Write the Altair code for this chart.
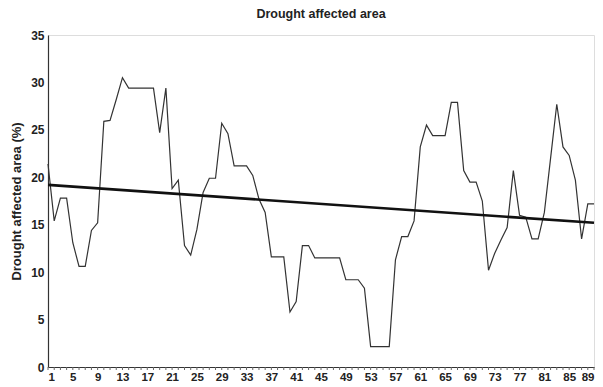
import altair as alt
import pandas as pd

years = list(range(1, 90))
area = [
    21.4, 15.4, 17.8, 17.8, 13.1, 10.6, 10.6, 14.4, 15.2, 25.9,
    26.0, 28.2, 30.5, 29.4, 29.4, 29.4, 29.4, 29.4, 24.7, 29.4,
    18.8, 19.7, 12.8, 11.8, 14.5, 18.4, 19.9, 19.9, 25.7, 24.6,
    21.2, 21.2, 21.2, 20.2, 17.7, 16.3, 11.6, 11.6, 11.6, 5.8,
    6.9, 12.8, 12.8, 11.5, 11.5, 11.5, 11.5, 11.5, 9.2, 9.2,
    9.2, 8.3, 2.15, 2.15, 2.15, 2.15, 11.3, 13.75, 13.75, 15.4,
    23.2, 25.5, 24.4, 24.4, 24.4, 27.9, 27.9, 20.7, 19.5, 19.5,
    17.5, 10.2, 12.0, 13.4, 14.7, 20.7, 16.0, 15.8, 13.5, 13.5,
    16.3, 22.0, 27.7, 23.2, 22.3, 19.7, 13.5, 17.2, 17.2,
]
x_labels = list(range(1, 90, 4))
trend_x = [1, 89]
trend_y = [19.2, 15.2]
y_ticks = [0, 5, 10, 15, 20, 25, 30, 35]

df = pd.DataFrame({"t": years, "v": area})
tr = pd.DataFrame({"t": trend_x, "v": trend_y})
minor = pd.DataFrame({"t": years})

FONT = "Liberation Sans"
H = 332

x_axis = alt.Axis(
    values=x_labels,
    labelOverlap=False,
    labelFont=FONT, labelFontSize=11.5, labelFontWeight="bold",
    labelColor="#222", labelPadding=4,
    ticks=False, domainColor="#333", domainWidth=1.2,
    grid=False, title=None,
)
x_scale = alt.Scale(domain=[1, 89], nice=False, zero=False)
y_enc = alt.Y(
    "v:Q",
    scale=alt.Scale(domain=[0, 35], nice=False),
    axis=alt.Axis(
        values=y_ticks,
        labelFont=FONT, labelFontSize=12, labelFontWeight="bold",
        labelColor="#222", labelPadding=4,
        ticks=False, domainColor="#333", domainWidth=1.2, grid=False,
        title="Drought affected area (%)",
        titleFont=FONT, titleFontSize=13, titleFontWeight="bold",
        titleColor="#222", titlePadding=7,
    ),
)

line = alt.Chart(df).mark_line(color="#333", strokeWidth=1.2).encode(
    x=alt.X("t:Q", scale=x_scale, axis=x_axis), y=y_enc
)
trend = alt.Chart(tr).mark_line(color="#111", strokeWidth=2.6).encode(
    x=alt.X("t:Q", scale=x_scale, axis=x_axis), y="v:Q"
)
ticks = alt.Chart(minor).mark_rule(color="#666", strokeWidth=1).encode(
    x=alt.X("t:Q", scale=x_scale, axis=x_axis), y=alt.value(H), y2=alt.value(H + 3)
)

chart = (
    alt.layer(line, trend, ticks)
    .properties(
        width=546,
        height=H,
        title=alt.TitleParams(
            "Drought affected area", font=FONT, fontSize=12.5, fontWeight="bold",
            color="#222", anchor="middle", offset=9,
        ),
        autosize=alt.AutoSizeParams(type="none"),
        padding={"left": 40, "top": 27, "right": 1, "bottom": 16},
    )
    .configure_axisX(labelOverlap=False)
    .configure_view(stroke="#444", strokeWidth=1)
    .configure(background="white")
)

chart.save("out.html", embed_options={"renderer": "svg", "actions": False})
